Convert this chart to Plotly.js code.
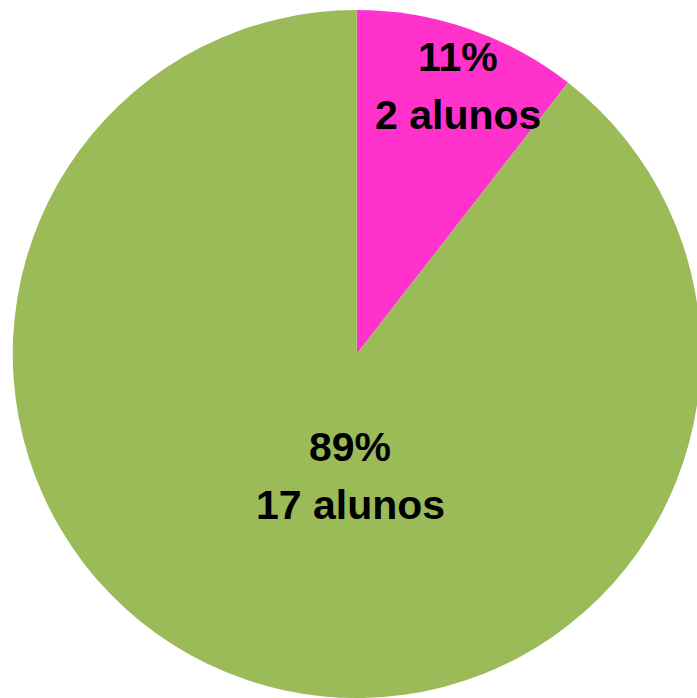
<!DOCTYPE html>
<html>
<head>
<meta charset="utf-8">
<script src="https://cdn.plot.ly/plotly-3.0.1.min.js"></script>
<style>
  html, body { margin: 0; padding: 0; background: #ffffff; overflow: hidden; }
  #wrap { width: 697px; height: 698px; overflow: hidden; }
  #chart { width: 701px; height: 698px; }
</style>
</head>
<body>
<div id="wrap"><div id="chart"></div></div>
<script>
// Data
const categories = ['Grupo A', 'Grupo B'];
const values = [2, 17];
const unitLabel = 'alunos';
const sliceColors = ['#FF33CC', '#9BBB59'];

// Label placement (style): radial fraction and angular offset from slice middle (deg)
const labelRadial = [0.833, 0.355];
const labelAngleShift = [1.75, -16];

const W = 701, H = 698;
const domX = [12.5 / W, 1];
const domY = [0, 1 - 10 / H];

const total = values.reduce((a, b) => a + b, 0);
const cxPx = (domX[0] + domX[1]) / 2 * W;
const cyPx = (1 - (domY[0] + domY[1]) / 2) * H;
const rPx = Math.min((domX[1] - domX[0]) * W, (domY[1] - domY[0]) * H) / 2;

const annotations = [];
let start = 0;
values.forEach((v, i) => {
  const frac = v / total;
  const mid = start + frac * 360 / 2 + labelAngleShift[i];
  start += frac * 360;
  const a = mid * Math.PI / 180;
  const px = cxPx + labelRadial[i] * rPx * Math.sin(a);
  const py = cyPx - labelRadial[i] * rPx * Math.cos(a);
  const xp = px / W, yp = 1 - py / H;
  const font = { family: 'Liberation Sans, Arial, sans-serif', size: 41, color: '#000000', weight: 'bold' };
  annotations.push({ x: xp, y: yp, xref: 'paper', yref: 'paper', showarrow: false,
    text: '<b>' + Math.round(frac * 100) + '%</b>', font: font, xanchor: 'center', yanchor: 'middle', yshift: 29 });
  annotations.push({ x: xp, y: yp, xref: 'paper', yref: 'paper', showarrow: false,
    text: '<b>' + v + ' ' + unitLabel + '</b>', font: font, xanchor: 'center', yanchor: 'middle', yshift: -29 });
});

const trace = {
  type: 'pie',
  labels: categories,
  values: values,
  sort: false,
  direction: 'clockwise',
  rotation: 0,
  textinfo: 'none',
  hoverinfo: 'skip',
  marker: { colors: sliceColors, line: { width: 0 } },
  domain: { x: domX, y: domY },
  showlegend: false
};

const layout = {
  width: W, height: H,
  margin: { l: 0, r: 0, t: 0, b: 0, pad: 0 },
  paper_bgcolor: '#ffffff',
  showlegend: false,
  annotations: annotations
};

Plotly.newPlot('chart', [trace], layout, { displayModeBar: false, staticPlot: true });
</script>
</body>
</html>
